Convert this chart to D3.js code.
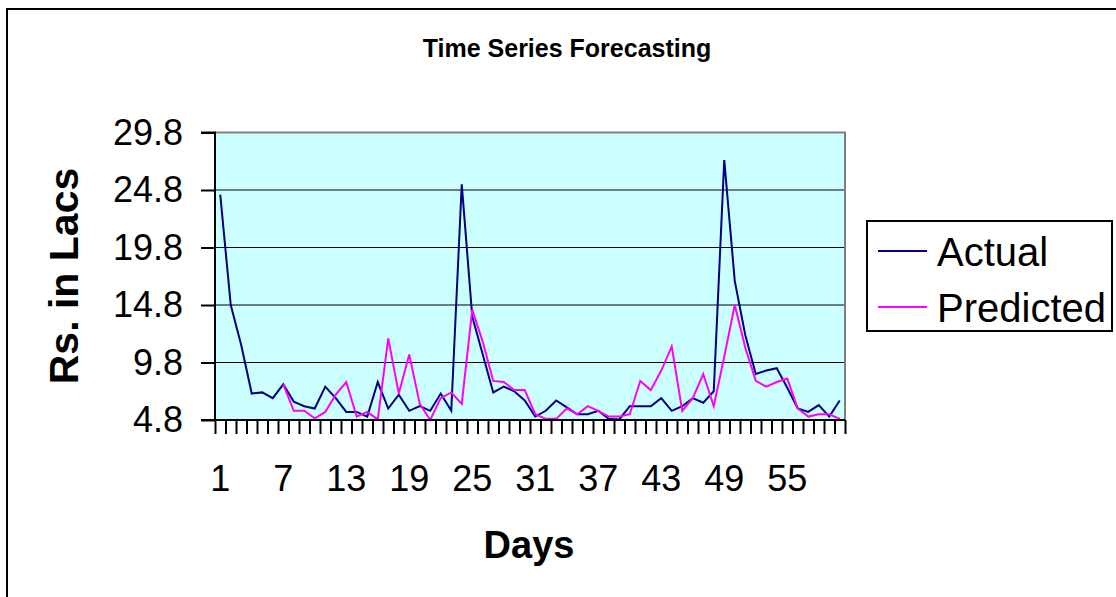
<!DOCTYPE html>
<html>
<head>
<meta charset="utf-8">
<script src="https://cdn.jsdelivr.net/npm/d3@7"></script>
<style>
  html, body { margin: 0; padding: 0; background: #fff; }
  svg { display: block; }
  text { font-family: "Liberation Sans", Arial, sans-serif; fill: #000; }
</style>
</head>
<body>
<svg id="chart" width="1116" height="597"></svg>
<script>
// ---- data ----
const days = d3.range(1, 61);
const actual = [
  24.4, 14.8, 11.3, 7.1, 7.2, 6.7, 7.9, 6.4, 6.0, 5.8,
  7.7, 6.7, 5.5, 5.5, 5.1, 8.1, 5.8, 7.0, 5.6, 6.0,
  5.6, 7.1, 5.6, 25.3, 13.8, 10.5, 7.2, 7.7, 7.3, 6.5,
  5.1, 5.6, 6.5, 5.9, 5.3, 5.3, 5.6, 4.9, 4.85, 6.0,
  6.0, 6.0, 6.7, 5.6, 6.0, 6.7, 6.3, 7.3, 27.4, 16.9,
  12.2, 8.8, 9.1, 9.3, 7.6, 5.8, 5.5, 6.1, 5.1, 6.5
];
// predicted starts on day 7
const predicted = [
  null, null, null, null, null, null, 7.9, 5.6, 5.6, 4.95,
  5.5, 7.0, 8.1, 5.1, 5.5, 4.85, 11.9, 7.1, 10.5, 6.2,
  4.8, 6.7, 7.2, 6.2, 14.4, 11.6, 8.2, 8.1, 7.4, 7.4,
  5.3, 4.9, 4.9, 5.8, 5.3, 6.0, 5.6, 5.1, 5.1, 5.3,
  8.2, 7.4, 9.1, 11.2, 5.6, 6.7, 8.8, 6.0, 10.3, 14.8,
  11.1, 8.2, 7.7, 8.1, 8.4, 5.8, 5.1, 5.3, 5.3, 4.9
];
const yTicks = [4.8, 9.8, 14.8, 19.8, 24.8, 29.8];
const xLabels = [1, 7, 13, 19, 25, 31, 37, 43, 49, 55];
const seriesNames = ["Actual", "Predicted"];
const seriesColors = ["#000080", "#FF00FF"];
const title = "Time Series Forecasting";
const xTitle = "Days";
const yTitle = "Rs. in Lacs";

// ---- layout ----
const L = 215, R = 845, T = 132.5, B = 420;
const svg = d3.select("#chart");

// outer chart border
svg.append("rect").attr("x", 7).attr("y", 9).attr("width", 1300).attr("height", 800)
  .attr("fill", "#fff").attr("stroke", "#000").attr("stroke-width", 2);

const x = d3.scaleLinear().domain([0.5, 60.5]).range([L, R]);
const y = d3.scaleLinear().domain([4.8, 29.8]).range([B, T]);

// plot background
svg.append("rect").attr("x", L).attr("y", T).attr("width", R - L).attr("height", B - T)
  .attr("fill", "#CCFFFF");

// gridlines
svg.append("g").selectAll("line").data(yTicks.slice(1, -1)).join("line")
  .attr("x1", L).attr("x2", R).attr("y1", d => y(d)).attr("y2", d => y(d))
  .attr("stroke", "#000").attr("stroke-width", 1);

// plot frame top/right in gray
svg.append("path")
  .attr("d", `M${L},${T}H${R}V${B}`)
  .attr("fill", "none").attr("stroke", "#808080").attr("stroke-width", 2);

// lines
const line = d3.line()
  .defined(d => d.v != null)
  .x(d => x(d.day)).y(d => y(d.v));
[actual, predicted].forEach((arr, i) => {
  svg.append("path")
    .datum(days.map((day, k) => ({ day, v: arr[k] })))
    .attr("d", line)
    .attr("fill", "none")
    .attr("stroke", seriesColors[i])
    .attr("stroke-width", 2)
    .attr("stroke-linejoin", "miter");
});

// y axis
const yAxis = d3.axisLeft(y).tickValues(yTicks).tickSize(14).tickPadding(18)
  .tickFormat(d3.format(".1f"));
const gy = svg.append("g").attr("transform", `translate(${L},0)`).call(yAxis);
gy.select(".domain").attr("stroke", "#000").attr("stroke-width", 2).attr("d", `M-14,${B}H0V${T}H-14`);
gy.selectAll(".tick line").attr("stroke", "#000").attr("stroke-width", 2);
gy.selectAll(".tick text").attr("font-size", 36).attr("font-family", "Liberation Sans, Arial, sans-serif")
  .attr("fill", "#000");

// x axis: ticks at category boundaries
const xAxis = d3.axisBottom(x).tickValues(d3.range(0.5, 61, 1)).tickSize(14).tickFormat("");
const gx = svg.append("g").attr("transform", `translate(0,${B})`).call(xAxis);
gx.select(".domain").attr("stroke", "#000").attr("stroke-width", 2).attr("d", `M${L},0H${R}`);
gx.selectAll(".tick line").attr("stroke", "#000").attr("stroke-width", 2);

// x category labels
svg.append("g").selectAll("text").data(xLabels).join("text")
  .attr("x", d => x(d)).attr("y", 491)
  .attr("text-anchor", "middle").attr("font-size", 36)
  .text(d => d);

// titles
svg.append("text").attr("x", 567).attr("y", 57).attr("text-anchor", "middle")
  .attr("font-size", 25).attr("font-weight", "bold").text(title);
svg.append("text").attr("x", 529).attr("y", 558).attr("text-anchor", "middle")
  .attr("font-size", 38).attr("font-weight", "bold").text(xTitle);
svg.append("text").attr("transform", "translate(78,276) rotate(-90)").attr("text-anchor", "middle")
  .attr("font-size", 41).attr("font-weight", "bold").text(yTitle);

// legend
const lg = svg.append("g");
lg.append("rect").attr("x", 867).attr("y", 221).attr("width", 245).attr("height", 110)
  .attr("fill", "#fff").attr("stroke", "#000").attr("stroke-width", 2);
const legendY = [251, 307];
seriesNames.forEach((name, i) => {
  lg.append("line").attr("x1", 878).attr("x2", 927).attr("y1", legendY[i]).attr("y2", legendY[i])
    .attr("stroke", seriesColors[i]).attr("stroke-width", 2);
  lg.append("text").attr("x", 937).attr("y", legendY[i] + 15).attr("font-size", 40).text(name);
});
</script>
</body>
</html>
